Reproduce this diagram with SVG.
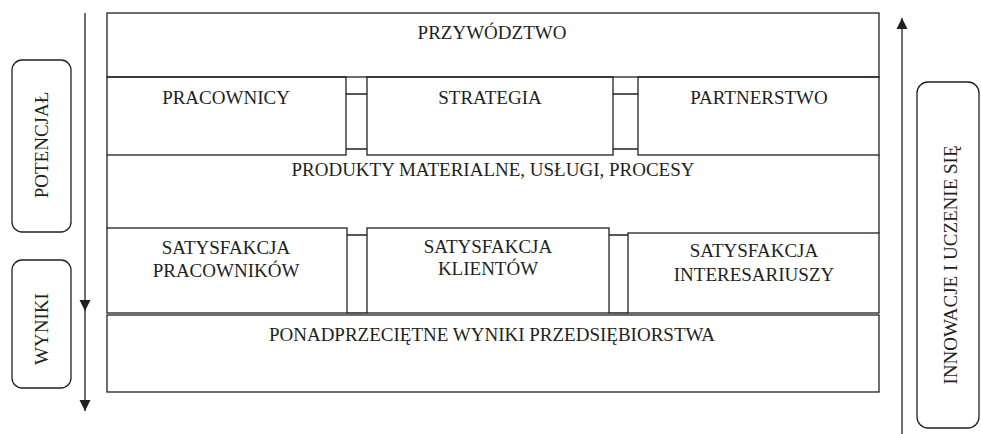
<svg xmlns="http://www.w3.org/2000/svg" width="981" height="434" viewBox="0 0 981 434">
<style>
.b{fill:none;stroke:#231f20;stroke-width:1.3}
.c{stroke:#231f20;stroke-width:1.3;fill:none}
text{font-family:"Liberation Serif","Times New Roman",serif;font-size:19px;fill:#231f20;text-anchor:middle}
</style>
<defs>
<marker id="ah" markerWidth="12" markerHeight="12" refX="11" refY="6" orient="auto" markerUnits="userSpaceOnUse">
<path d="M0,0.5 L11,6 L0,11.5 Z" fill="#231f20"/>
</marker>
</defs>
<rect width="981" height="434" fill="#fff"/>
<g id="przywodztwo">
<rect class="b" x="107" y="13" width="772" height="64"/>
<text x="492" y="39">PRZYWÓDZTWO</text>
</g>
<g id="pracownicy">
<rect class="b" x="107" y="77" width="239" height="78"/>
<text x="226" y="104">PRACOWNICY</text>
</g>
<g id="strategia">
<rect class="b" x="367" y="77" width="246" height="78"/>
<text x="490" y="104">STRATEGIA</text>
</g>
<g id="partnerstwo">
<rect class="b" x="638" y="77" width="241" height="78"/>
<text x="759" y="104">PARTNERSTWO</text>
</g>
<g id="produkty">
<path class="b" d="M107,155 V228 M879,155 V233"/>
<text x="493" y="176">PRODUKTY MATERIALNE, USŁUGI, PROCESY</text>
</g>
<g id="satysfakcja-pracownikow">
<rect class="b" x="107" y="228" width="240" height="85"/>
<text x="226" y="254">SATYSFAKCJA</text>
<text x="226" y="277">PRACOWNIKÓW</text>
</g>
<g id="satysfakcja-klientow">
<rect class="b" x="367" y="228" width="242" height="85"/>
<text x="488" y="253">SATYSFAKCJA</text>
<text x="488" y="275">KLIENTÓW</text>
</g>
<g id="satysfakcja-interesariuszy">
<rect class="b" x="628" y="233" width="251" height="80"/>
<text x="754" y="257">SATYSFAKCJA</text>
<text x="754" y="281">INTERESARIUSZY</text>
</g>
<g id="wyniki-przedsiebiorstwa">
<rect class="b" x="107" y="315" width="772" height="77"/>
<text x="492" y="341">PONADPRZECIĘTNE WYNIKI PRZEDSIĘBIORSTWA</text>
</g>
<g id="potencjal">
<rect class="b" x="12" y="60" width="59" height="172" rx="10"/>
<text transform="translate(48,145) rotate(-90)">POTENCJAŁ</text>
</g>
<g id="wyniki">
<rect class="b" x="12" y="260" width="59" height="128" rx="10"/>
<text transform="translate(48,329) rotate(-90)">WYNIKI</text>
</g>
<g id="innowacje">
<rect class="b" x="917" y="82" width="62" height="346" rx="11"/>
<text transform="translate(957,265) rotate(-90)">INNOWACJE I UCZENIE SIĘ</text>
</g>
<g id="connectors">
<path class="c" d="M346,94 H367 M346,149 H367 M613,94 H638 M613,149 H638"/>
<path class="c" d="M347,235 H367 M347,313 H367 M609,235 H628 M609,313 H628"/>
<line class="c" x1="85" y1="13" x2="85" y2="311" marker-end="url(#ah)"/>
<line class="c" x1="85" y1="300" x2="85" y2="411" marker-end="url(#ah)"/>
<line class="c" x1="902" y1="434" x2="902" y2="18" marker-end="url(#ah)"/>
</g>
</svg>
